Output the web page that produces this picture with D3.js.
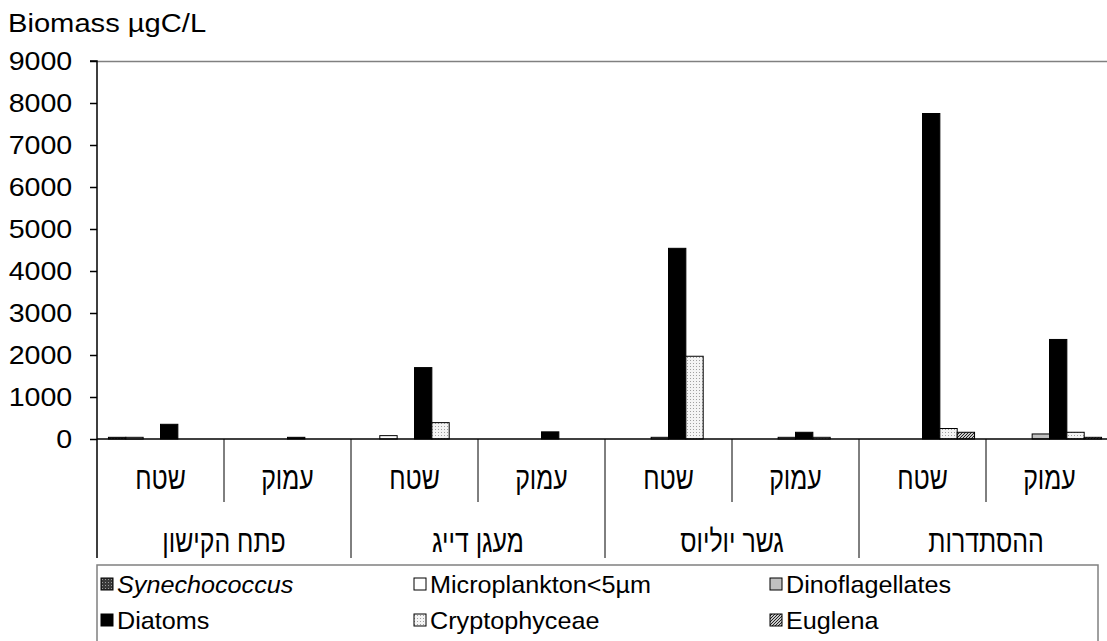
<!DOCTYPE html>
<html>
<head>
<meta charset="utf-8">
<script src="https://cdn.jsdelivr.net/npm/d3@7"></script>
<style>
body { margin: 0; background: #fff; }
text { font-family: "Liberation Sans", Arial, "DejaVu Sans", sans-serif; fill: #000; }
</style>
</head>
<body>
<script>
// sites (left to right) and depth per site
var sites = ['פתח הקישון', 'מעגן דייג', 'גשר יוליוס', 'ההסתדרות'];
var depths = ['שטח', 'עמוק'];
var yTicks = [0, 1000, 2000, 3000, 4000, 5000, 6000, 7000, 8000, 9000];

// series, in bar order inside every category
var seriesNames = ['Synechococcus', 'Microplankton<5µm', 'Dinoflagellates', 'Diatoms', 'Cryptophyceae', 'Euglena'];
var synechococcus = [40, 0, 0, 0, 0, 0, 0, 0];
var microplankton = [40, 0, 80, 0, 0, 0, 0, 0];
var dinoflagellates = [0, 0, 0, 0, 40, 40, 0, 120];
var diatoms = [350, 40, 1700, 170, 4540, 160, 7750, 2370];
var cryptophyceae = [0, 0, 390, 0, 1970, 40, 250, 160];
var euglena = [0, 0, 0, 0, 0, 0, 160, 40];

var seriesValues = [synechococcus, microplankton, dinoflagellates, diatoms, cryptophyceae, euglena];
var seriesFill = ['url(#pSyn)', '#ffffff', '#c0c0c0', '#000000', 'url(#pCry)', 'url(#pEug)'];

var width = 1107, height = 641;
var margin = { top: 61, right: -6, bottom: 202, left: 97 };
// the source picture is a bit wider than tall, so latin text gets stretched
var stretch = 1.1;

var svg = d3.select("body").
	append("svg").
	attr("width", width).
	attr("height", height);

// fill patterns like the old excel ones
var defs = svg.append("defs");
var pSyn = defs.append("pattern").attr("id", "pSyn").attr("width", 3).attr("height", 3).attr("patternUnits", "userSpaceOnUse");
pSyn.append("rect").attr("width", 3).attr("height", 3).attr("fill", "#3a3a3a");
pSyn.append("rect").attr("width", 1).attr("height", 1).attr("fill", "#9a9a9a");
var pCry = defs.append("pattern").attr("id", "pCry").attr("width", 3).attr("height", 3).attr("patternUnits", "userSpaceOnUse");
pCry.append("rect").attr("width", 3).attr("height", 3).attr("fill", "#f4f4f4");
pCry.append("rect").attr("width", 1).attr("height", 1).attr("fill", "#a0a0a0");
var pEug = defs.append("pattern").attr("id", "pEug").attr("width", 3).attr("height", 3).attr("patternUnits", "userSpaceOnUse");
pEug.append("rect").attr("width", 3).attr("height", 3).attr("fill", "#c8c8c8");
pEug.append("path").attr("d", "M-1,1 L1,-1 M0,3 L3,0 M2,4 L4,2").attr("stroke", "#222").attr("stroke-width", 1);

// one category per site/depth pair
var cats = [];
sites.forEach(function (s, i) {
	depths.forEach(function (d, j) { cats.push({ site: s, depth: d, idx: i * 2 + j }); });
});

var x0 = d3.scaleBand()
	.domain(cats.map(function (c) { return c.idx; }))
	.range([margin.left, width - margin.right]);
var x1 = d3.scaleBand()
	.domain(d3.range(seriesNames.length))
	.range([0, x0.bandwidth()])
	.paddingOuter(0.66);
var y = d3.scaleLinear()
	.domain([0, 9000])
	.range([height - margin.bottom, margin.top]);

var y0 = y(0);

function latin(sel, x, yy) {
	return sel.attr("transform", "translate(" + x + "," + yy + ") scale(" + stretch + ",1)");
}
// hebrew labels in the source are narrow and tall
function hebrew(sel, x, yy) {
	return sel.attr("transform", "translate(" + x + "," + yy + ") scale(0.92,1.15)")
		.attr("text-anchor", "middle")
		.style("font-size", "27px");
}

// title
latin(svg.append("text"), 8, 32)
	.style("font-size", "26.5px")
	.text("Biomass µgC/L");

// plot top border
svg.append("line")
	.attr("x1", margin.left).attr("x2", width)
	.attr("y1", y(9000) + 0.5).attr("y2", y(9000) + 0.5)
	.attr("stroke", "#808080").attr("stroke-width", 1.5);

// bars
var bars = svg.append("g");
cats.forEach(function (c) {
	seriesValues.forEach(function (vals, k) {
		var v = vals[c.idx];
		if (!v) return;
		bars.append("rect")
			.attr("x", x0(c.idx) + x1(k))
			.attr("y", y(v))
			.attr("width", x1.bandwidth())
			.attr("height", y0 - y(v))
			.attr("fill", seriesFill[k])
			.attr("stroke", "#000")
			.attr("stroke-width", 1);
	});
});

// y axis
var yAxis = svg.append("g")
	.attr("transform", "translate(" + margin.left + ",0)")
	.call(d3.axisLeft(y).tickValues(yTicks).tickSize(7).tickPadding(15.5).tickFormat(d3.format("d")));
yAxis.select(".domain").attr("stroke", "#000").attr("stroke-width", 1.5).attr("d", "M-7," + y(9000) + "H0V" + 558);
yAxis.selectAll(".tick line").attr("stroke", "#000").attr("stroke-width", 1.5);
yAxis.selectAll(".tick text").style("font-size", "26px").attr("fill", "#000")
	.attr("transform", "scale(" + stretch + ",1)")
	.style("font-family", "'Liberation Sans', Arial, sans-serif");

// baseline
svg.append("line")
	.attr("x1", margin.left).attr("x2", width)
	.attr("y1", y0).attr("y2", y0)
	.attr("stroke", "#000").attr("stroke-width", 1.5);

// category separators: short between depths, long between sites
cats.forEach(function (c) {
	var xr = x0(c.idx) + x0.bandwidth();
	svg.append("line")
		.attr("x1", xr).attr("x2", xr)
		.attr("y1", y0).attr("y2", c.idx % 2 === 0 ? 502 : 558)
		.attr("stroke", "#000").attr("stroke-width", 1);
	hebrew(svg.append("text"), x0(c.idx) + x0.bandwidth() / 2, 489)
		.text(c.depth);
});
sites.forEach(function (s, i) {
	hebrew(svg.append("text"), x0(i * 2) + x0.bandwidth(), 552)
		.text(s);
});

// legend
var legend = svg.append("g");
legend.append("rect")
	.attr("x", margin.left).attr("y", 565)
	.attr("width", 1001).attr("height", 90)
	.attr("fill", "none").attr("stroke", "#808080").attr("stroke-width", 1.5);
var legCols = [101, 414, 770];
var legRows = [584, 620];
seriesNames.forEach(function (n, k) {
	var lx = legCols[k % 3], ly = legRows[Math.floor(k / 3)];
	legend.append("rect")
		.attr("x", lx).attr("y", ly - 6)
		.attr("width", 12).attr("height", 12)
		.attr("fill", seriesFill[k])
		.attr("stroke", "#000").attr("stroke-width", 1);
	legend.append("text")
		.attr("transform", "translate(" + (lx + 16) + "," + (ly + 9) + ") scale(1.05,1)")
		.style("font-size", "24px")
		.style("font-style", k === 0 ? "italic" : "normal")
		.text(n);
});
</script>
</body>
</html>
